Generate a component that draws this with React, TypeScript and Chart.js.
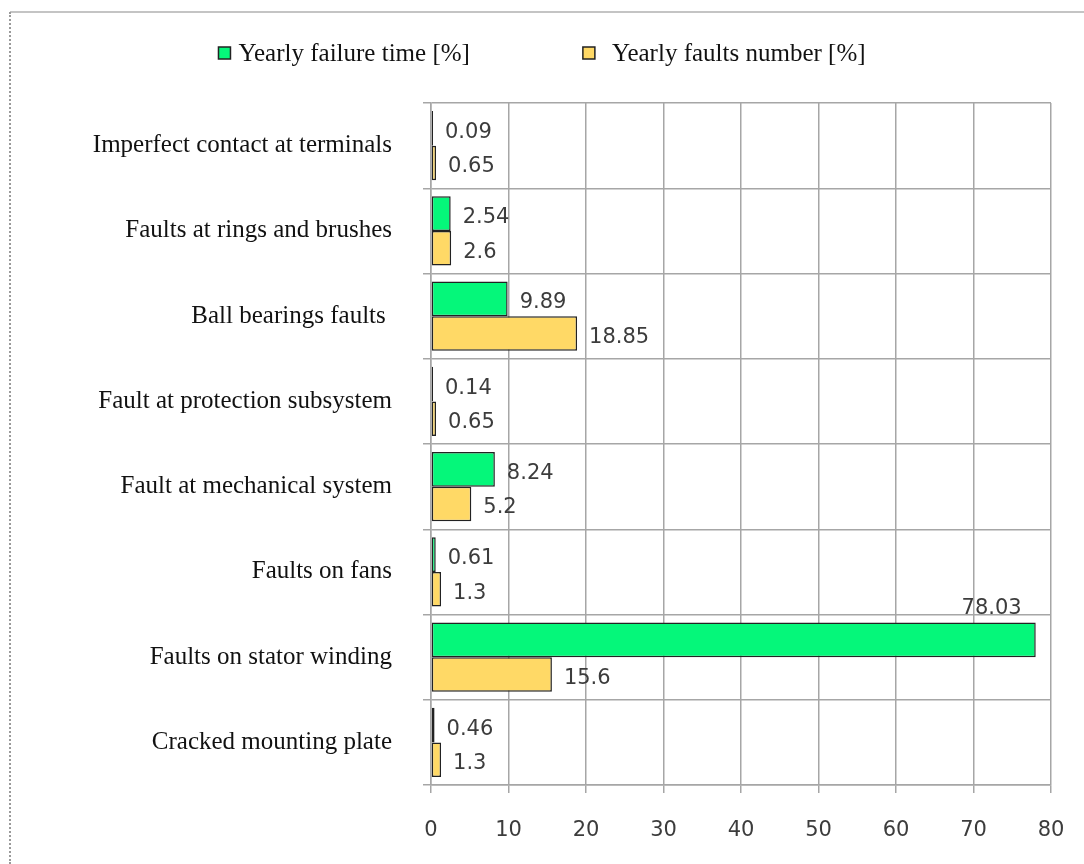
import React, { useEffect, useRef } from "react";
import { Chart, registerables } from "chart.js";

Chart.register(...registerables);

const categories = [
  "Imperfect contact at terminals",
  "Faults at rings and brushes",
  "Ball bearings faults ",
  "Fault at protection subsystem",
  "Fault at mechanical system",
  "Faults on fans",
  "Faults on stator winding",
  "Cracked mounting plate",
];
const failureTime = [0.09, 2.54, 9.89, 0.14, 8.24, 0.61, 78.03, 0.46];
const faultsNumber = [0.65, 2.6, 18.85, 0.65, 5.2, 1.3, 15.6, 1.3];
const seriesNames = ["Yearly failure time [%]", "Yearly faults number [%]"];
const seriesColors = ["#05f77a", "#ffd966"];
const xMin = 0;
const xMax = 80;
const xStep = 10;

const SERIF = "'Liberation Serif', 'Times New Roman', serif";
const SANS = "'DejaVu Sans', Verdana, sans-serif";

const valueLabels = {
  id: "valueLabels",
  afterDatasetsDraw(chart: any) {
    const ctx = chart.ctx;
    ctx.save();
    ctx.font = `21px ${SANS}`;
    ctx.fillStyle = "#3c3c3c";
    ctx.textBaseline = "middle";
    chart.data.datasets.forEach((ds: any, di: number) => {
      const meta = chart.getDatasetMeta(di);
      meta.data.forEach((bar: any, i: number) => {
        const text = String(ds.data[i]);
        const w = ctx.measureText(text).width;
        const { x, y, height } = bar.getProps(["x", "y", "height"], true);
        if (x + 12 + w > chart.chartArea.right) {
          ctx.textAlign = "right";
          ctx.fillText(text, x - 14, y - height / 2 - 14);
        } else {
          ctx.textAlign = "left";
          ctx.fillText(text, Math.max(x, chart.chartArea.left + 2) + 12, y + 4);
        }
      });
    });
    ctx.restore();
  },
};

const customLegend = {
  id: "customLegend",
  afterDraw(chart: any) {
    const ctx = chart.ctx;
    ctx.save();
    ctx.font = `25px ${SERIF}`;
    ctx.textBaseline = "middle";
    ctx.textAlign = "left";
    const box = 12;
    const textGap = [8, 17];
    const itemGap = 113;
    const widths = chart.data.datasets.map(
      (ds: any, i: number) => box + textGap[i] + ctx.measureText(ds.label).width
    );
    const total = widths.reduce((a: number, b: number) => a + b, 0) + itemGap;
    let x = chart.width / 2 - total / 2;
    const cy = 53;
    chart.data.datasets.forEach((ds: any, i: number) => {
      ctx.fillStyle = ds.backgroundColor;
      ctx.fillRect(x, cy - box / 2, box, box);
      ctx.strokeStyle = "#222";
      ctx.lineWidth = 1.5;
      ctx.strokeRect(x, cy - box / 2, box, box);
      ctx.fillStyle = "#111";
      ctx.fillText(ds.label, x + box + textGap[i], cy + 1);
      x += widths[i] + itemGap;
    });
    ctx.restore();
  },
};

export default function App() {
  const ref = useRef<HTMLCanvasElement | null>(null);

  useEffect(() => {
    if (!ref.current) return;
    const chart = new Chart(ref.current, {
      type: "bar",
      data: {
        labels: categories,
        datasets: [
          {
            label: seriesNames[0],
            data: failureTime,
            backgroundColor: seriesColors[0],
            borderColor: "#222",
            borderWidth: 1.5,
            borderSkipped: false,
            minBarLength: 2,
            categoryPercentage: 0.81,
            barPercentage: 1.0,
          },
          {
            label: seriesNames[1],
            data: faultsNumber,
            backgroundColor: seriesColors[1],
            borderColor: "#222",
            borderWidth: 1.5,
            borderSkipped: false,
            minBarLength: 2,
            categoryPercentage: 0.81,
            barPercentage: 1.0,
          },
        ],
      },
      options: {
        indexAxis: "y",
        responsive: false,
        animation: false,
        layout: { padding: { top: 103, right: 33, left: 0, bottom: 0 } },
        plugins: {
          legend: { display: false },
          tooltip: { enabled: false },
        },
        scales: {
          x: {
            min: xMin,
            max: xMax,
            ticks: {
              stepSize: xStep,
              padding: 25,
              color: "#3c3c3c",
              font: { family: SANS, size: 21 },
            },
            grid: { color: "#a6a6a6", lineWidth: 1.5, tickLength: 8 },
            border: { color: "#a6a6a6", width: 1.5 },
            afterFit: (s: any) => {
              s.height = 79;
              s.paddingLeft = 0;
              s.paddingRight = 0;
            },
          },
          y: {
            ticks: {
              padding: 31,
              color: "#111",
              font: { family: SERIF, size: 25 },
            },
            grid: { color: "#a6a6a6", lineWidth: 1.5, tickLength: 8, offset: true },
            border: { color: "#a6a6a6", width: 1.5 },
            afterFit: (s: any) => {
              s.width = 431;
            },
          },
        },
      },
      plugins: [valueLabels, customLegend],
    });
    return () => chart.destroy();
  }, []);

  return (
    <div style={{ position: "absolute", left: 0, top: 0, width: 1084, height: 864, background: "#fff" }}>
      <div style={{ position: "absolute", left: 10, top: 11, width: 1074, height: 2, background: "#c4c4c4" }} />
      <div
        style={{
          position: "absolute",
          left: 9,
          top: 12,
          width: 0,
          height: 852,
          borderLeft: "2px dotted #9a9a9a",
        }}
      />
      <canvas ref={ref} width={1084} height={864} style={{ position: "absolute", left: 0, top: 0 }} />
    </div>
  );
}
